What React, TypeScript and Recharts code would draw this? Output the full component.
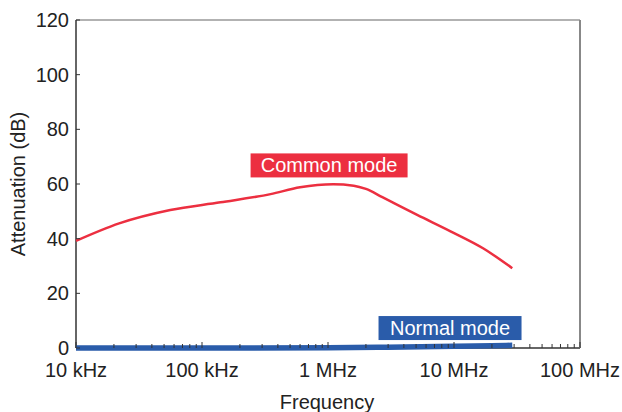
import { LineChart, Line, XAxis, YAxis, ReferenceDot } from "recharts";

// common mode attenuation
const cmFreq = [1e4, 2.2e4, 5.6e4, 1.4e5, 3.5e5, 6e5, 1.1e6, 1.6e6, 2.0e6, 2.7e6, 5.1e6, 9.3e6, 1.7e7, 2.9e7];
const cmDb = [39.2, 45.6, 50.5, 53.3, 56.3, 58.8, 59.9, 59.4, 58.2, 55.2, 48.7, 42.8, 36.5, 29.2];

// normal mode attenuation
const nmFreq = [1e4, 1e5, 1e6, 3e6, 1e7, 2e7, 2.9e7];
const nmDb = [0, 0, 0.1, 0.3, 0.6, 0.8, 1.0];

const majorFreqs = [1e4, 1e5, 1e6, 1e7, 1e8];
const freqLabels = ["10 kHz", "100 kHz", "1 MHz", "10 MHz", "100 MHz"];
const minorSteps = [2, 3, 4, 5, 6, 7, 8, 9];
const dbTicks = [0, 20, 40, 60, 80, 100, 120];

const minorFreqs = majorFreqs.slice(0, -1).flatMap((d) => minorSteps.map((m) => d * m));
const allFreqTicks = [...majorFreqs, ...minorFreqs].sort((a, b) => a - b);

const cmData = cmFreq.map((f, i) => ({ f, v: cmDb[i] }));
const nmData = nmFreq.map((f, i) => ({ f, v: nmDb[i] }));

const FONT = "'Liberation Sans', Arial, Helvetica, sans-serif";
const RED = "#ec2f40";
const BLUE = "#2a5caa";

function FreqTick(props: any) {
  const { x, y, payload } = props;
  const idx = majorFreqs.indexOf(payload.value);
  const major = idx >= 0;
  return (
    <g>
      <line x1={x} x2={x} y1={y} y2={y - (major ? 6 : 4)} stroke="#333" strokeWidth={1} />
      {major && (
        <text x={x} y={y + 29} textAnchor="middle" fontFamily={FONT} fontSize={20} fill="#222">
          {freqLabels[idx]}
        </text>
      )}
    </g>
  );
}

function DbTick(props: any) {
  const { x, y, payload } = props;
  return (
    <g>
      <line x1={x} x2={x + 4} y1={y} y2={y} stroke="#333" strokeWidth={1} />
      <text x={x - 7} y={y + 7} textAnchor="end" fontFamily={FONT} fontSize={20} fill="#222">
        {payload.value}
      </text>
    </g>
  );
}

function tag(text: string, color: string, w: number) {
  return (props: any) => {
    const { cx, cy } = props;
    return (
      <g>
        <rect x={cx - w / 2} y={cy - 12} width={w} height={24} fill={color} />
        <text x={cx} y={cy + 7} textAnchor="middle" fontFamily={FONT} fontSize={20} fill="#fff">
          {text}
        </text>
      </g>
    );
  };
}

export default function App() {
  return (
    <div style={{ position: "absolute", left: 0, top: 0, width: 622, height: 412, background: "#fff" }}>
      <LineChart width={622} height={412} margin={{ top: 0, right: 0, bottom: 0, left: 0 }}>
        <XAxis
          dataKey="f"
          type="number"
          scale="log"
          domain={[1e4, 1e8]}
          ticks={allFreqTicks}
          interval={0}
          tick={<FreqTick />}
          tickLine={false}
          tickSize={0}
          tickMargin={0}
          height={64}
          axisLine={{ stroke: "#333", strokeWidth: 1.5 }}
        />
        <XAxis
          xAxisId="top"
          orientation="top"
          type="number"
          scale="log"
          domain={[1e4, 1e8]}
          tick={false}
          tickLine={false}
          height={20}
          axisLine={{ stroke: "#666", strokeWidth: 1.2 }}
        />
        <YAxis
          type="number"
          domain={[0, 120]}
          ticks={dbTicks}
          interval={0}
          tick={<DbTick />}
          tickLine={false}
          tickSize={0}
          tickMargin={0}
          width={76}
          axisLine={{ stroke: "#333", strokeWidth: 1.5 }}
        />
        <YAxis
          yAxisId="right"
          orientation="right"
          type="number"
          domain={[0, 120]}
          tick={false}
          tickLine={false}
          width={42}
          axisLine={{ stroke: "#888", strokeWidth: 2 }}
        />
        <Line data={nmData} dataKey="v" type="monotone" stroke={BLUE} strokeWidth={5.5} dot={false} isAnimationActive={false} zIndex={600} />
        <Line data={cmData} dataKey="v" type="monotone" stroke={RED} strokeWidth={2.5} dot={false} isAnimationActive={false} zIndex={600} />
        <ReferenceDot x={1.02e6} y={66.8} r={0} shape={tag("Common mode", RED, 157)} zIndex={700} />
        <ReferenceDot x={9.3e6} y={7.3} r={0} shape={tag("Normal mode", BLUE, 143)} zIndex={700} />
        <text x={25} y={184} transform="rotate(-90, 25, 184)" textAnchor="middle" fontFamily={FONT} fontSize={20} fill="#222">
          Attenuation (dB)
        </text>
        <text x={327} y={409} textAnchor="middle" fontFamily={FONT} fontSize={20} fill="#222">
          Frequency
        </text>
      </LineChart>
    </div>
  );
}
